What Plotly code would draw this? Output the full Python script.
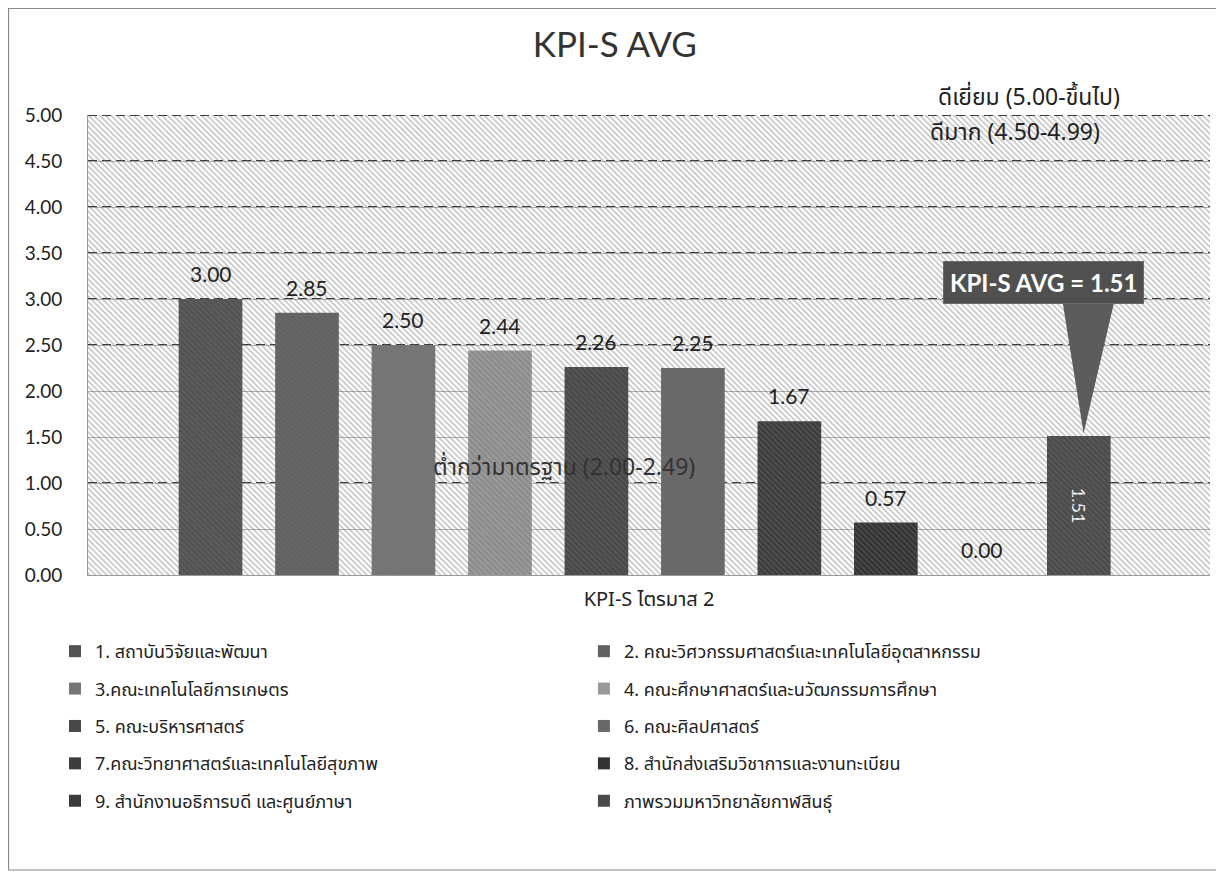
import plotly.graph_objects as go

# ---------------- data ----------------
series_names = [
    "1. สถาบันวิจัยและพัฒนา",
    "2. คณะวิศวกรรมศาสตร์และเทคโนโลยีอุตสาหกรรม",
    "3.คณะเทคโนโลยีการเกษตร",
    "4. คณะศึกษาศาสตร์และนวัฒกรรมการศึกษา",
    "5. คณะบริหารศาสตร์",
    "6. คณะศิลปศาสตร์",
    "7.คณะวิทยาศาสตร์และเทคโนโลยีสุขภาพ",
    "8. สำนักส่งเสริมวิชาการและงานทะเบียน",
    "9. สำนักงานอธิการบดี และศูนย์ภาษา",
    "ภาพรวมมหาวิทยาลัยกาฬสินธุ์",
]
series_values = [3.00, 2.85, 2.50, 2.44, 2.26, 2.25, 1.67, 0.57, 0.00, 1.51]
series_colors = ["#525252", "#626262", "#767676", "#999999", "#484848",
                 "#686868", "#3c3c3c", "#333333", "#3a3a3a", "#4a4a4a"]
category_label = "KPI-S ไตรมาส 2"
chart_title = "KPI-S AVG"
avg_value = 1.51
avg_label = "KPI-S AVG = 1.51"
threshold_lines = [1.0, 2.5, 3.0, 3.5, 4.0, 4.5, 5.0]
band_labels = [
    ("ดีเยี่ยม (5.00-ขึ้นไป)", 5.0),
    ("ดีมาก (4.50-4.99)", 4.80),
    ("ต่ำกว่ามาตรฐาน (2.00-2.49)", 1.16),
]
y_ticks = [0, 0.5, 1.0, 1.5, 2.0, 2.5, 3.0, 3.5, 4.0, 4.5, 5.0]

# ---------------- layout constants ----------------
FONT = "Noto Sans Thai, Noto Sans, Open Sans, sans-serif"
NUMFONT = "Lato, Open Sans, sans-serif"
X_RANGE = [-1.27, 10.36]
Y_RANGE = [0, 5.0]
W, H = 1216, 869
ML, MR, MT, MB = 80, 14, 107, 302
PW = W - ML - MR
PH = H - MT - MB

fig = go.Figure()

# hatched plot background
fig.add_trace(go.Scatter(
    x=[X_RANGE[0], X_RANGE[1], X_RANGE[1], X_RANGE[0], X_RANGE[0]],
    y=[Y_RANGE[0], Y_RANGE[0], Y_RANGE[1], Y_RANGE[1], Y_RANGE[0]],
    mode="lines", line=dict(width=0), fill="toself",
    fillcolor="rgba(0,0,0,0)",
    fillpattern=dict(shape="\\", fgcolor="#6f6f6f", bgcolor="rgba(0,0,0,0)",
                     size=4, solidity=0.33),
    hoverinfo="skip", showlegend=False,
))

n = len(series_values)
for i, (name, val, col) in enumerate(zip(series_names, series_values, series_colors)):
    is_last = i == n - 1
    fig.add_trace(go.Bar(
        x=[i], y=[val], name=name, width=0.66,
        marker=dict(color=col, line=dict(width=0)),
        text=[f"{val:.2f}"] if is_last else None,
        textposition="inside" if is_last else "none",
        textangle=90,
        insidetextanchor="middle",
        textfont=dict(family=NUMFONT, size=18, color="white"),
        cliponaxis=False,
        legend="legend" if i % 2 == 0 else "legend2",
        legendgroup=f"g{i}",
    ))
    if not is_last:
        fig.add_annotation(x=i, y=val, xref="x", yref="y", text=f"{val:.2f}",
                           showarrow=False, yanchor="bottom", yshift=11,
                           font=dict(family=NUMFONT, size=21, color="#222222"))

# threshold dashed lines
for t in threshold_lines:
    fig.add_shape(type="line", xref="paper", yref="y", x0=0, x1=1, y0=t, y1=t,
                  line=dict(color="#333333", width=1.8, dash="9px,5px"), layer="below")

# band labels
fig.add_annotation(x=9.45, y=band_labels[0][1], xref="x", yref="y", text=band_labels[0][0],
                   showarrow=False, xanchor="right", yanchor="bottom", yshift=-2,
                   font=dict(family=FONT, size=23, color="#222222"))
fig.add_annotation(x=9.24, y=band_labels[1][1], xref="x", yref="y", text=band_labels[1][0],
                   showarrow=False, xanchor="right", yanchor="middle",
                   font=dict(family=FONT, size=23, color="#222222"))
fig.add_annotation(x=3.66, y=band_labels[2][1], xref="x", yref="y", text=band_labels[2][0],
                   showarrow=False, font=dict(family=FONT, size=23, color="#333333"))

# callout wedge + box
tip_x = n - 1 + 0.05
box_cx, box_cy = n - 1 - 0.37, avg_value + 1.67
fig.add_shape(type="path", xref="x", yref="y",
              path=f"M {tip_x - 0.22},{box_cy - 0.2} L {tip_x + 0.32},{box_cy - 0.2} "
                   f"L {tip_x},{avg_value + 0.03} Z",
              fillcolor="#5c5c5c", line=dict(width=0), layer="above")
fig.add_annotation(x=box_cx, y=box_cy, xref="x", yref="y", text=f"<b>{avg_label}</b>",
                   showarrow=False, bgcolor="#505050", bordercolor="#6a6a6a",
                   borderwidth=1, borderpad=6,
                   font=dict(family=NUMFONT, size=24, color="white"))

# outer border
fig.add_shape(type="rect", xref="paper", yref="paper",
              x0=(0.5 - ML) / PW, x1=(1210 - ML) / PW,
              y0=(H - MB - 862) / PH, y1=(H - MB - 0.5) / PH,
              line=dict(color="#888888", width=1.2), fillcolor="rgba(0,0,0,0)", layer="below")

legend_common = dict(
    orientation="v", font=dict(family=FONT, size=18, color="#222222"),
    bgcolor="rgba(0,0,0,0)", itemwidth=30, tracegroupgap=11,
    xanchor="left", yanchor="top", itemclick=False,
)

fig.update_layout(
    width=W, height=H,
    margin=dict(l=ML, r=MR, t=MT, b=MB),
    paper_bgcolor="white", plot_bgcolor="white",
    title=dict(text=chart_title, x=0.499, xanchor="center", y=1 - 37 / H, yanchor="middle",
               font=dict(family=NUMFONT, size=35, color="#333333")),
    barmode="overlay",
    xaxis=dict(range=X_RANGE, showticklabels=False, showgrid=False, zeroline=False,
               showline=True, linecolor="#999999", linewidth=1, ticks="",
               title=dict(text=category_label, standoff=16,
                          font=dict(family=FONT, size=20, color="#222222"))),
    yaxis=dict(range=Y_RANGE, tickvals=y_ticks, tickformat=".2f",
               showgrid=True, gridcolor="#b0b0b0", gridwidth=1, zeroline=False,
               showline=True, linecolor="#999999", linewidth=1,
               ticks="", ticklabelstandoff=21,
               tickfont=dict(family=NUMFONT, size=19, color="#222222")),
    legend=dict(x=-0.0294, y=-0.126, **legend_common),
    legend2=dict(x=0.442, y=-0.126, **legend_common),
    showlegend=True,
)

fig.write_html("out.html")
